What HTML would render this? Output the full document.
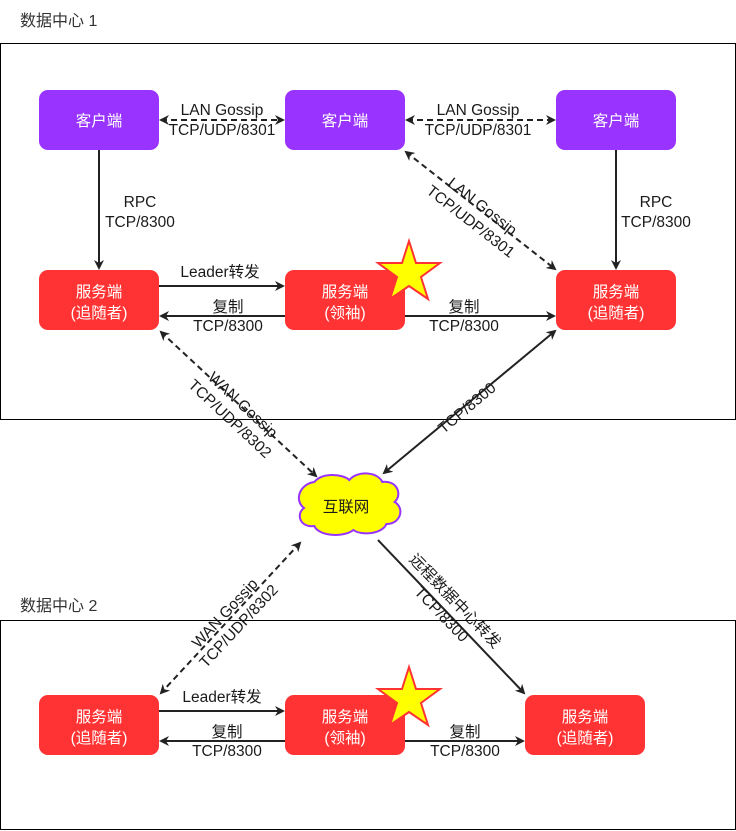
<!DOCTYPE html>
<html><head><meta charset="utf-8"><style>
body{margin:0;background:#fff}
svg{display:block}
text{font-family:"Liberation Sans","Noto Sans CJK SC",sans-serif;font-size:15.5px;fill:#1a1a1a}
.w{fill:#fff;font-size:15.5px}
</style></head><body>
<svg width="736" height="831" viewBox="0 0 736 831">
<defs>
<marker id="a" markerWidth="10" markerHeight="10" refX="8" refY="5" orient="auto-start-reverse" markerUnits="userSpaceOnUse">
<path d="M0,0 L10,5 L0,10 L3,5 z" fill="#222"/></marker>
</defs>
<rect x="0.5" y="43.5" width="735" height="376" fill="none" stroke="#000"/>
<rect x="0.5" y="620.5" width="735" height="209" fill="none" stroke="#000"/>
<text x="20" y="26" style="font-size:16px;fill:#333">数据中心 1</text>
<text x="20" y="611" style="font-size:16px;fill:#333">数据中心 2</text>

<g stroke="#222" stroke-width="2" fill="none">
<line x1="161" y1="120" x2="283" y2="120" stroke-dasharray="6,4" marker-start="url(#a)" marker-end="url(#a)"/>
<line x1="407" y1="120" x2="554" y2="120" stroke-dasharray="6,4" marker-start="url(#a)" marker-end="url(#a)"/>
<line x1="406" y1="152" x2="555" y2="269" stroke-dasharray="6,4" marker-start="url(#a)" marker-end="url(#a)"/>
<line x1="99" y1="150" x2="99" y2="268" marker-end="url(#a)"/>
<line x1="616" y1="150" x2="616" y2="268" marker-end="url(#a)"/>
<line x1="159" y1="286" x2="283" y2="286" marker-end="url(#a)"/>
<line x1="285" y1="316" x2="161" y2="316" marker-end="url(#a)"/>
<line x1="405" y1="316" x2="554" y2="316" marker-end="url(#a)"/>
<line x1="161" y1="332" x2="316" y2="476" stroke-dasharray="6,4" marker-start="url(#a)" marker-end="url(#a)"/>
<line x1="555" y1="331" x2="384" y2="473" marker-start="url(#a)" marker-end="url(#a)"/>
<line x1="300" y1="543" x2="161" y2="693" stroke-dasharray="6,4" marker-start="url(#a)" marker-end="url(#a)"/>
<line x1="378" y1="540" x2="524" y2="693" marker-end="url(#a)"/>
<line x1="159" y1="711" x2="283" y2="711" marker-end="url(#a)"/>
<line x1="285" y1="741" x2="161" y2="741" marker-end="url(#a)"/>
<line x1="405" y1="741" x2="523" y2="741" marker-end="url(#a)"/>
</g>

<g fill="#9933FF">
<rect x="39" y="90" width="120" height="60" rx="9"/>
<rect x="285" y="90" width="120" height="60" rx="9"/>
<rect x="556" y="90" width="120" height="60" rx="9"/>
</g>
<g fill="#FF3333">
<rect x="39" y="270" width="120" height="60" rx="9"/>
<rect x="285" y="270" width="120" height="60" rx="9"/>
<rect x="556" y="270" width="120" height="60" rx="9"/>
<rect x="39" y="695" width="120" height="60" rx="9"/>
<rect x="285" y="695" width="120" height="60" rx="9"/>
<rect x="525" y="695" width="120" height="60" rx="9"/>
</g>
<g text-anchor="middle">
<text class="w" x="99" y="126">客户端</text>
<text class="w" x="345" y="126">客户端</text>
<text class="w" x="616" y="126">客户端</text>
<text class="w" x="99" y="297">服务端</text><text class="w" x="99" y="318">(追随者)</text>
<text class="w" x="345" y="297">服务端</text><text class="w" x="345" y="318">(领袖)</text>
<text class="w" x="616" y="297">服务端</text><text class="w" x="616" y="318">(追随者)</text>
<text class="w" x="99" y="722">服务端</text><text class="w" x="99" y="743">(追随者)</text>
<text class="w" x="345" y="722">服务端</text><text class="w" x="345" y="743">(领袖)</text>
<text class="w" x="585" y="722">服务端</text><text class="w" x="585" y="743">(追随者)</text>
</g>

<polygon points="409,241 416,263 440,263 421,277 428,299 409,286 390,299 397,277 378,263 402,263" fill="#FFFF00" stroke="#FF3333" stroke-width="2"/>
<polygon points="409,667 416,689 440,689 421,703 428,725 409,712 390,725 397,703 378,689 402,689" fill="#FFFF00" stroke="#FF3333" stroke-width="2"/>

<g transform="translate(-5,4) scale(1.03,1)">
<path d="M310,478 C318,468 338,470 344,476 C352,466 372,468 376,478 C390,476 396,490 388,498 C398,504 394,520 380,520 C376,530 356,532 348,526 C338,534 314,532 310,522 C296,524 292,510 300,504 C290,496 296,480 310,478 Z" fill="#FFFF00" stroke="#9933FF" stroke-width="2"/>
</g>
<text x="346" y="512" text-anchor="middle">互联网</text>

<g text-anchor="middle">
<text x="222" y="115">LAN Gossip</text><text x="222" y="135">TCP/UDP/8301</text>
<text x="478" y="115">LAN Gossip</text><text x="478" y="135">TCP/UDP/8301</text>
<text x="140" y="207">RPC</text><text x="140" y="227">TCP/8300</text>
<text x="656" y="207">RPC</text><text x="656" y="227">TCP/8300</text>
<text x="220" y="277">Leader转发</text>
<text x="228" y="312">复制</text><text x="228" y="331">TCP/8300</text>
<text x="464" y="312">复制</text><text x="464" y="331">TCP/8300</text>
<text x="222" y="702">Leader转发</text>
<text x="227" y="737">复制</text><text x="227" y="756">TCP/8300</text>
<text x="465" y="737">复制</text><text x="465" y="756">TCP/8300</text>
<g transform="translate(478,212) rotate(38)"><text x="0" y="-2">LAN Gossip</text><text x="0" y="17">TCP/UDP/8301</text></g>
<g transform="translate(238,410) rotate(43)"><text x="0" y="-2">WAN Gossip</text><text x="0" y="17">TCP/UDP/8302</text></g>
<g transform="translate(467,408) rotate(-40)"><text x="0" y="5">TCP/8300</text></g>
<g transform="translate(230,618) rotate(-47)"><text x="0" y="-2">WAN Gossip</text><text x="0" y="17">TCP/UDP/8302</text></g>
<g transform="translate(450,606) rotate(46)"><text x="0" y="-2">远程数据中心转发</text><text x="0" y="17">TCP/8300</text></g>
</g>
</svg>
</body></html>
